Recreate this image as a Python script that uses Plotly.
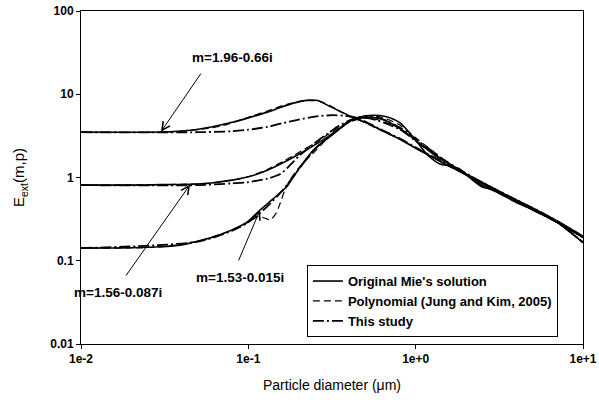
import plotly.graph_objects as go

# ---------------- data ----------------
# m = 1.96-0.66i
d_hi_mie = [0.01, 0.02, 0.03, 0.045, 0.06, 0.08, 0.1, 0.13, 0.16, 0.2, 0.23, 0.26, 0.3, 0.35, 0.42,
            0.5, 0.6, 0.8, 1.0, 1.5, 2, 3, 5, 7, 10]
e_hi_mie = [3.5, 3.5, 3.52, 3.7, 4.05, 4.6, 5.2, 6.1, 7.1, 8.1, 8.5, 8.4, 7.3, 6.3, 5.3,
            4.6, 3.85, 2.9, 2.25, 1.45, 1.08, 0.71, 0.41, 0.29, 0.165]
d_hi_poly = [0.01, 0.03, 0.05, 0.07, 0.1, 0.13, 0.16, 0.2, 0.23, 0.26, 0.3, 0.35, 0.42,
             0.5, 0.6, 0.8, 1.0, 1.5, 2, 3, 5, 7, 10]
e_hi_poly = [3.5, 3.5, 3.75, 4.2, 5.3, 6.3, 7.3, 8.2, 8.4, 8.3, 7.5, 6.3, 5.2,
             4.55, 3.8, 2.9, 2.25, 1.45, 1.08, 0.71, 0.41, 0.29, 0.165]
d_hi_new = [0.01, 0.05, 0.08, 0.1, 0.13, 0.16, 0.2, 0.25, 0.32, 0.38, 0.45,
            0.5, 0.6, 0.8, 1.0, 1.5, 2, 3, 5, 7, 10]
e_hi_new = [3.5, 3.5, 3.6, 3.75, 4.05, 4.5, 4.95, 5.4, 5.6, 5.5, 5.2,
            4.7, 3.9, 2.95, 2.3, 1.48, 1.1, 0.72, 0.42, 0.29, 0.167]

# m = 1.56-0.087i
d_mid_mie = [0.01, 0.02, 0.03, 0.045, 0.06, 0.08, 0.1, 0.13, 0.16, 0.2, 0.24, 0.3, 0.35, 0.4, 0.45,
             0.5, 0.55, 0.65, 0.8, 1.0, 1.3, 1.6, 2, 2.5, 3, 4, 5, 7, 10]
e_mid_mie = [0.81, 0.81, 0.82, 0.83, 0.86, 0.93, 1.02, 1.22, 1.49, 1.9, 2.35, 3.1, 3.9, 4.7, 5.1,
             5.3, 5.3, 4.9, 3.9, 2.8, 1.85, 1.45, 1.08, 0.8, 0.68, 0.5, 0.41, 0.29, 0.19]
d_mid_poly = [0.01, 0.03, 0.05, 0.07, 0.1, 0.13, 0.16, 0.2, 0.25, 0.3, 0.35, 0.4, 0.45,
              0.5, 0.6, 0.8, 1.0, 1.5, 2, 3, 5, 7, 10]
e_mid_poly = [0.81, 0.82, 0.84, 0.89, 1.02, 1.25, 1.55, 2.0, 2.6, 3.3, 4.0, 4.6, 5.0,
              5.2, 4.9, 3.9, 2.8, 1.55, 1.08, 0.7, 0.41, 0.29, 0.19]
d_mid_new = [0.01, 0.05, 0.08, 0.1, 0.13, 0.155, 0.18, 0.2, 0.25, 0.3, 0.35, 0.42,
             0.5, 0.6, 0.8, 1.0, 1.5, 2, 3, 5, 7, 10]
e_mid_new = [0.81, 0.81, 0.85, 0.88, 0.97, 1.1, 1.45, 1.8, 2.6, 3.4, 4.2, 5.0,
             5.2, 4.8, 3.8, 2.75, 1.55, 1.08, 0.7, 0.41, 0.29, 0.19]

# m = 1.53-0.015i
d_lo_mie = [0.01, 0.02, 0.03, 0.04, 0.05, 0.065, 0.08, 0.1, 0.118, 0.14, 0.17, 0.185, 0.21, 0.243,
            0.28, 0.32, 0.36, 0.4, 0.45, 0.5, 0.56, 0.65, 0.8, 1.0, 1.2, 1.4, 1.6, 1.85, 2.1,
            2.5, 2.9, 3.5, 5, 7, 10]
e_lo_mie = [0.142, 0.143, 0.147, 0.155, 0.172, 0.2, 0.235, 0.3, 0.41, 0.55, 0.78, 1.0, 1.45, 2.1,
            2.7, 3.3, 4.0, 4.8, 5.2, 5.5, 5.6, 5.45, 4.6, 2.8, 1.8, 1.45, 1.38, 1.25, 1.0,
            0.77, 0.72, 0.6, 0.43, 0.3, 0.197]
d_lo_poly = [0.01, 0.03, 0.05, 0.08, 0.1, 0.115, 0.128, 0.135, 0.145, 0.155, 0.165, 0.177, 0.2,
             0.24, 0.3, 0.36, 0.42, 0.5, 0.6, 0.8, 1.0, 1.5, 2, 3, 5, 7, 10]
e_lo_poly = [0.142, 0.147, 0.172, 0.235, 0.29, 0.34, 0.32, 0.31, 0.36, 0.49, 0.7, 0.93, 1.3,
             1.9, 3.0, 4.0, 5.0, 5.5, 5.4, 4.3, 3.0, 1.6, 1.1, 0.72, 0.43, 0.3, 0.197]
d_lo_new = [0.01, 0.05, 0.08, 0.1, 0.13, 0.16, 0.2, 0.25, 0.3, 0.36, 0.42,
            0.5, 0.6, 0.8, 1.0, 1.5, 2, 3, 5, 7, 10]
e_lo_new = [0.142, 0.17, 0.23, 0.29, 0.45, 0.7, 1.25, 2.2, 3.0, 4.0, 4.9,
            5.3, 5.2, 4.0, 2.9, 1.6, 1.12, 0.72, 0.43, 0.3, 0.195]

x_tickvals = [0.01, 0.1, 1, 10]
x_ticktext = ["1e-2", "1e-1", "1e+0", "1e+1"]
y_tickvals = [0.01, 0.1, 1, 10, 100]
y_ticktext = ["0.01", "0.1", "1", "10", "100"]

series_names = ["Original Mie's solution", "Polynomial (Jung and Kim, 2005)", "This study"]

# ---------------- figure ----------------
FONT = "Liberation Sans, Arial, sans-serif"
styles = [
    dict(color="black", width=1.6, dash="solid"),
    dict(color="black", width=1.2, dash="7px,4px"),
    dict(color="black", width=1.8, dash="11px,3px,2px,3px"),
]

groups = [
    [(d_hi_mie, e_hi_mie), (d_hi_poly, e_hi_poly), (d_hi_new, e_hi_new)],
    [(d_mid_mie, e_mid_mie), (d_mid_poly, e_mid_poly), (d_mid_new, e_mid_new)],
    [(d_lo_mie, e_lo_mie), (d_lo_poly, e_lo_poly), (d_lo_new, e_lo_new)],
]

fig = go.Figure()
for gi, grp in enumerate(groups):
    for si, (dx, ey) in enumerate(grp):
        fig.add_trace(go.Scatter(
            x=dx, y=ey, mode="lines", line=dict(styles[si], shape="spline", smoothing=0.8),
            name=series_names[si], legendgroup=series_names[si],
            showlegend=(gi == 0),
        ))

ann_font = dict(family=FONT, size=13.5, color="black", weight="bold")
labels = [
    ("m=1.96-0.66i", -1.097, 1.447, (-1.522, 0.55), (-1.277, 1.267)),
    ("m=1.56-0.087i", -1.779, -1.387, (-1.348, -0.085), (-1.737, -1.195)),
    ("m=1.53-0.015i", -1.050, -1.207, (-0.930, -0.390), (-1.062, -1.015)),
]
for txt, tx, ty, tip, tail in labels:
    fig.add_annotation(x=tx, y=ty, xref="x", yref="y", text=txt, showarrow=False, font=ann_font)
    fig.add_annotation(x=tip[0], y=tip[1], xref="x", yref="y", text="",
                       showarrow=True, axref="x", ayref="y", ax=tail[0], ay=tail[1],
                       arrowhead=5, arrowsize=1.6, arrowwidth=1, arrowcolor="black", standoff=0)

axis_common = dict(type="log", showline=True, mirror=True, linecolor="black", linewidth=1,
                   showgrid=False, zeroline=False, ticks="outside", ticklen=4, automargin=False,
                   ticklabeloverflow="allow",
                   tickcolor="black", tickfont=dict(family=FONT, size=12, color="black", weight="bold"))

fig.update_layout(
    width=599, height=403,
    margin=dict(l=81, r=16, t=11, b=59, autoexpand=False),
    paper_bgcolor="white", plot_bgcolor="white",
    font=dict(family=FONT, color="black"),
    xaxis=dict(axis_common, range=[-2, 1], tickvals=x_tickvals, ticktext=x_ticktext,
               title=dict(text="Particle diameter (μm)", font=dict(family=FONT, size=14, color="black"),
                          standoff=14)),
    yaxis=dict(axis_common, range=[-2, 2], tickvals=y_tickvals, ticktext=y_ticktext,
               title=dict(text="E<sub>ext</sub>(m,p)", font=dict(family=FONT, size=15, color="black"),
                          standoff=21)),
    legend=dict(x=0.45, y=0.237, xanchor="left", yanchor="top",
                bordercolor="black", borderwidth=1, bgcolor="white",
                font=dict(family=FONT, size=13, color="black", weight="bold"),
                tracegroupgap=0),
    showlegend=True,
)

# remove the page's default 8px body margin so the figure sits at the window's corner
fig.write_html("out.html", post_script="document.body.style.margin='0';",
               config={"displayModeBar": False})
